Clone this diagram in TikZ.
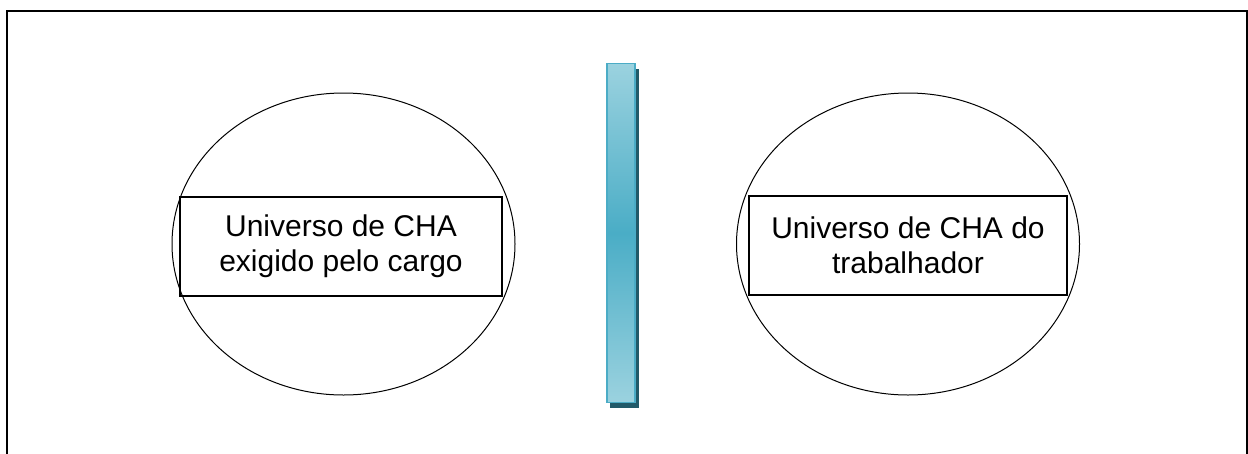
\documentclass[tikz,border=0pt]{standalone}
\usepackage{fontspec}
\setmainfont{Liberation Sans}
\usetikzlibrary{shapes.geometric}
\definecolor{barlight}{HTML}{9BD2DF}
\definecolor{barmid}{HTML}{4AADC6}
\definecolor{baredge}{HTML}{4BACC6}
\definecolor{bardark}{HTML}{215A69}
\begin{document}
\begin{tikzpicture}[x=1pt,y=-1pt,
  circ/.style={draw=black,line width=1pt,ellipse,minimum width=343pt,minimum height=302pt,inner sep=0pt},
  lbl/.style={draw=black,line width=1.2pt,align=center,font=\fontsize{30}{35}\selectfont,inner sep=0pt},
  frame/.style={draw=black,line width=2pt}]
\useasboundingbox (0,0) rectangle (1248,453);
\begin{scope}
\clip (0,0) rectangle (1248,453);
\draw[frame] (7,460) -- (7,11) -- (1247,11) -- (1247,460);
\end{scope}
% ellipses
\node[circ] (e1) at (343.5,244) {};
\node[circ] (e2) at (908,244) {};
% label boxes
\node[lbl,minimum width=322pt,minimum height=99pt] (t1) at (341,246.5) {Universo de CHA\\exigido pelo cargo};
\node[lbl,minimum width=318pt,minimum height=99pt] (t2) at (908,245.5) {Universo de CHA do\\trabalhador};
% bar shadow
\fill[bardark] (610,69) rectangle (638.5,408);
% bar
\node[draw=baredge,line width=1.5pt,minimum width=28pt,minimum height=339pt,inner sep=0pt,
  top color=barlight,bottom color=barlight,middle color=barmid] (bar) at (621,233) {};
\end{tikzpicture}
\end{document}
